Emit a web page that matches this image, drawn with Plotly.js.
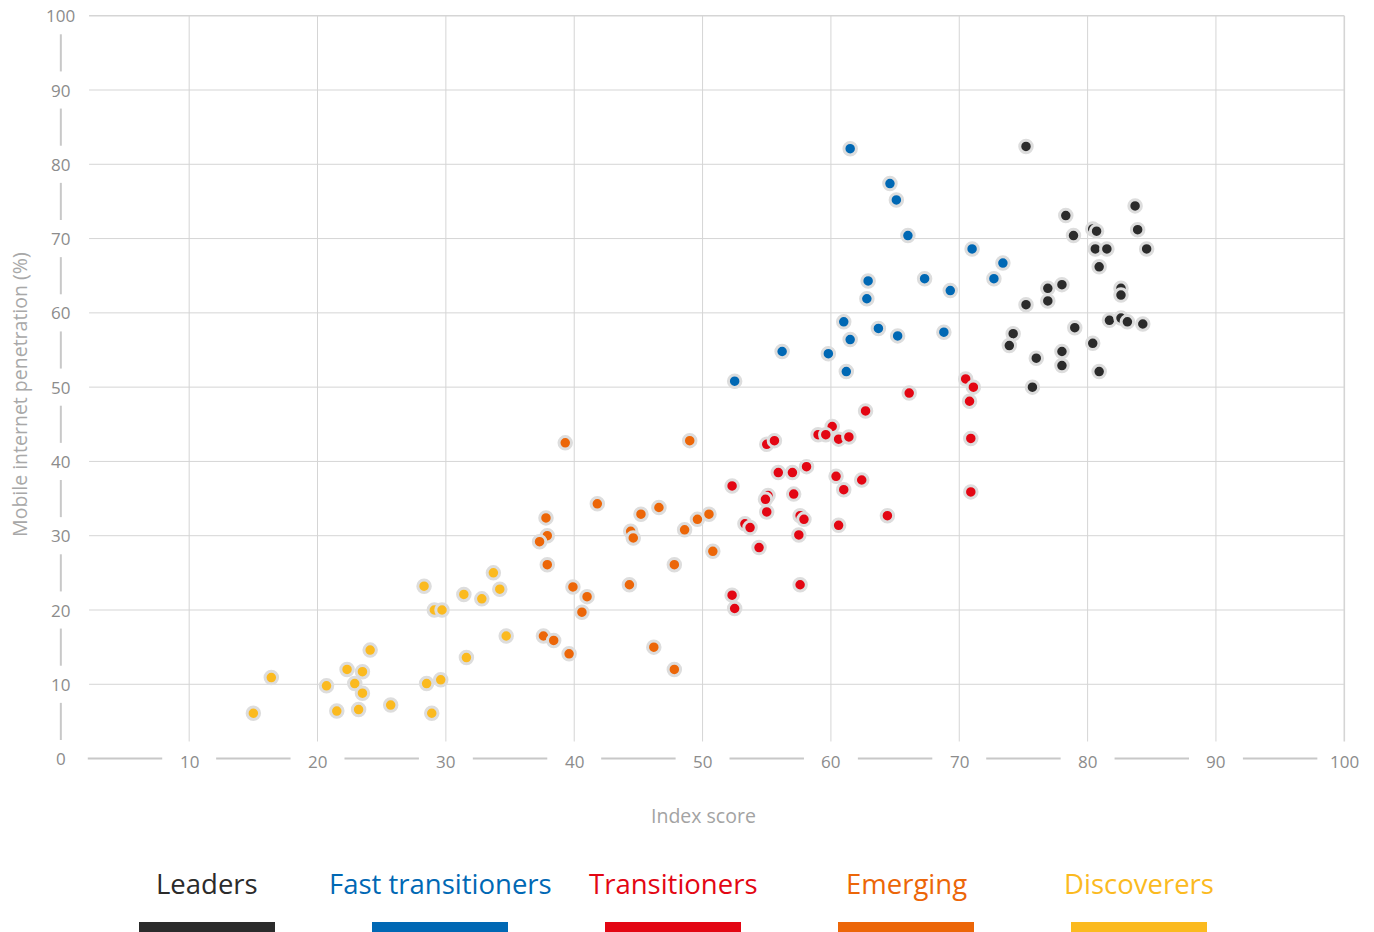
<!DOCTYPE html>
<html>
<head>
<meta charset="utf-8">
<script src="https://cdn.plot.ly/plotly-3.0.1.min.js"></script>
<style>
  html, body { margin: 0; padding: 0; background: #ffffff; }
  #chart { width: 1374px; height: 932px; }
</style>
</head>
<body>
<div id="chart"></div>
<script>
// ---------- data ----------
const groupNames = ['Leaders', 'Fast transitioners', 'Transitioners', 'Emerging', 'Discoverers'];
const groupColors = ['#2b2b2b', '#0068b4', '#e30613', '#ec6608', '#fbba1f'];

const leadersX = [75.2, 78.3, 78.9, 80.4, 80.7, 80.6, 81.5, 80.9, 83.7, 83.9, 84.6, 78.0, 76.9, 76.9, 75.2, 82.6, 82.6, 81.7, 82.6, 83.1, 84.3, 79.0, 74.2, 73.9, 80.4, 76.0, 78.0, 78.0, 80.9, 75.7];
const leadersY = [82.4, 73.1, 70.4, 71.3, 71.0, 68.6, 68.6, 66.2, 74.4, 71.2, 68.6, 63.8, 63.3, 61.6, 61.1, 63.3, 62.4, 59.0, 59.3, 58.8, 58.5, 58.0, 57.2, 55.6, 55.9, 53.9, 54.8, 52.9, 52.1, 50.0];

const fastX = [61.5, 64.6, 65.1, 66.0, 71.0, 73.4, 72.7, 67.3, 69.3, 62.9, 62.8, 61.0, 63.7, 65.2, 68.8, 61.5, 56.2, 59.8, 61.2, 52.5];
const fastY = [82.1, 77.4, 75.2, 70.4, 68.6, 66.7, 64.6, 64.6, 63.0, 64.3, 61.9, 58.8, 57.9, 56.9, 57.4, 56.4, 54.8, 54.5, 52.1, 50.8];

const transX = [66.1, 62.7, 60.1, 59.0, 59.6, 60.6, 61.4, 55.0, 55.6, 55.9, 57.0, 58.1, 60.4, 62.4, 61.0, 52.3, 55.1, 54.9, 57.1, 55.0, 57.6, 57.9, 53.3, 53.7, 60.6, 64.4, 57.5, 54.4, 52.3, 52.5, 57.6, 70.5, 71.1, 70.8, 70.9, 70.9];
const transY = [49.2, 46.8, 44.7, 43.6, 43.6, 43.0, 43.3, 42.3, 42.8, 38.5, 38.5, 39.3, 38.0, 37.5, 36.2, 36.7, 35.4, 34.9, 35.6, 33.2, 32.7, 32.2, 31.6, 31.1, 31.4, 32.7, 30.1, 28.4, 22.0, 20.2, 23.4, 51.1, 50.0, 48.1, 43.1, 35.9];

const emergX = [39.3, 41.8, 37.8, 37.9, 37.3, 37.9, 39.9, 41.0, 40.6, 37.6, 38.4, 39.6, 49.0, 45.2, 46.6, 44.4, 44.6, 48.6, 49.6, 50.5, 50.8, 47.8, 44.3, 46.2, 47.8];
const emergY = [42.5, 34.3, 32.4, 30.0, 29.2, 26.1, 23.1, 21.8, 19.7, 16.5, 15.9, 14.1, 42.8, 32.9, 33.8, 30.6, 29.7, 30.8, 32.2, 32.9, 27.9, 26.1, 23.4, 15.0, 12.0];

const discX = [15.0, 16.4, 20.7, 21.5, 22.3, 22.9, 23.5, 24.1, 23.5, 23.2, 25.7, 28.3, 29.1, 29.7, 28.5, 29.6, 28.9, 31.4, 32.8, 33.7, 34.2, 31.6, 34.7];
const discY = [6.1, 10.9, 9.8, 6.4, 12.0, 10.1, 11.7, 14.6, 8.8, 6.6, 7.2, 23.2, 20.0, 20.0, 10.1, 10.6, 6.1, 22.1, 21.5, 25.0, 22.8, 13.6, 16.5];

const xTickVals = [10, 20, 30, 40, 50, 60, 70, 80, 90, 100];
const yTickVals = [0, 10, 20, 30, 40, 50, 60, 70, 80, 90, 100];
const xTitle = 'Index score';
const yTitle = 'Mobile internet penetration (%)';

// ---------- traces ----------
const seriesX = [leadersX, fastX, transX, emergX, discX];
const seriesY = [leadersY, fastY, transY, emergY, discY];
const drawOrder = [4, 3, 2, 1, 0];

const traces = drawOrder.map(i => ({
  type: 'scatter',
  mode: 'markers',
  name: groupNames[i],
  x: seriesX[i],
  y: seriesY[i],
  cliponaxis: false,
  marker: {
    size: 12.5,
    color: groupColors[i],
    line: { color: '#dddddd', width: 3 }
  },
  hoverinfo: 'x+y+name'
}));

// ---------- decorations ----------
const FONT = '"Open Sans", Lato, sans-serif';
const gridColor = '#d5d5d5';
const axisColor = '#c8c8c8';
const tickFontColor = '#8c8c8c';
const shapes = [];

// horizontal grid lines
yTickVals.filter(v => v > 0).forEach(v => {
  shapes.push({ type: 'line', xref: 'x', yref: 'y', x0: 2.2, x1: 100, y0: v, y1: v,
    line: { color: gridColor, width: v === 100 ? 1.6 : 1 }, layer: 'below' });
});
// vertical grid lines
xTickVals.forEach(v => {
  shapes.push({ type: 'line', xref: 'x', yref: 'y', x0: v, x1: v, y0: 2.3, y1: 100,
    line: { color: gridColor, width: v === 100 ? 1.6 : 1 }, layer: 'below' });
});
// broken x-axis segments between labels
[0, 10, 20, 30, 40, 50, 60, 70, 80, 90].forEach(v => {
  shapes.push({ type: 'line', xref: 'x', yref: 'y', x0: v + 2.1, x1: v + 7.9, y0: 0, y1: 0,
    line: { color: axisColor, width: 2 }, layer: 'below' });
});
// broken y-axis segments between labels
[0, 10, 20, 30, 40, 50, 60, 70, 80, 90].forEach(v => {
  shapes.push({ type: 'line', xref: 'x', yref: 'y', x0: 0, x1: 0, y0: v + 2.5, y1: v + 7.5,
    line: { color: axisColor, width: 2 }, layer: 'below' });
});

const annotations = [];
xTickVals.forEach(v => {
  annotations.push({ xref: 'x', yref: 'y', x: v, y: 0, text: String(v), showarrow: false,
    xanchor: 'center', yanchor: 'middle', yshift: -3,
    font: { family: FONT, size: 17, color: tickFontColor } });
});
yTickVals.forEach(v => {
  annotations.push({ xref: 'x', yref: 'y', x: 0, y: v, text: String(v), showarrow: false,
    xanchor: 'center', yanchor: 'middle', yshift: 0,
    font: { family: FONT, size: 17, color: tickFontColor } });
});
// axis titles
annotations.push({ xref: 'x', yref: 'paper', x: 50.1, y: -0.066, text: xTitle, showarrow: false,
  xanchor: 'center', yanchor: 'middle',
  font: { family: FONT, size: 19.5, color: '#a3a3a3' } });
annotations.push({ xref: 'paper', yref: 'y', x: -0.022, y: 49, text: yTitle, showarrow: false,
  textangle: -90, xanchor: 'center', yanchor: 'middle',
  font: { family: FONT, size: 19.5, color: '#a8a8a8' } });

// custom legend (text + coloured bar)
const plotLeft = 48, plotW = 1304, plotTop = 12, plotH = 754;
const px2paperX = p => (p - plotLeft) / plotW;
const px2paperY = p => 1 - (p - plotTop) / plotH;
const legendCenters = [207, 440, 673, 906, 1139];
groupNames.forEach((name, i) => {
  annotations.push({ xref: 'paper', yref: 'paper', x: px2paperX(legendCenters[i]), y: px2paperY(883),
    text: name, showarrow: false, xanchor: 'center', yanchor: 'middle',
    font: { family: FONT, size: 27.5, color: groupColors[i] } });
  shapes.push({ type: 'rect', xref: 'paper', yref: 'paper',
    x0: px2paperX(legendCenters[i] - 68), x1: px2paperX(legendCenters[i] + 68),
    y0: px2paperY(935), y1: px2paperY(922),
    fillcolor: groupColors[i], line: { width: 0 } });
});

const layout = {
  width: 1374,
  height: 932,
  margin: { l: plotLeft, r: 1374 - plotLeft - plotW, t: plotTop, b: 932 - plotTop - plotH },
  paper_bgcolor: '#ffffff',
  plot_bgcolor: '#ffffff',
  showlegend: false,
  xaxis: { range: [-1, 100.6], showgrid: false, zeroline: false, showline: false,
    showticklabels: false, ticks: '', fixedrange: true },
  yaxis: { range: [-1, 100.5], showgrid: false, zeroline: false, showline: false,
    showticklabels: false, ticks: '', fixedrange: true },
  shapes: shapes,
  annotations: annotations,
  font: { family: FONT }
};

Plotly.newPlot('chart', traces, layout, { displayModeBar: false, responsive: false });
</script>
</body>
</html>
